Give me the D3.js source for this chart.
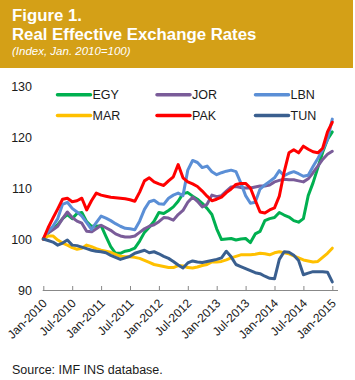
<!DOCTYPE html>
<html>
<head>
<meta charset="utf-8">
<script src="https://cdn.jsdelivr.net/npm/d3@7"></script>
<style>
  html, body { margin: 0; padding: 0; background: #fff; }
  svg { display: block; }
  text { font-family: "Liberation Sans", Arial, sans-serif; }
</style>
</head>
<body>
<svg id="chart" width="355" height="380"></svg>
<script>
// ---- Data ----
const months = d3.timeMonths(new Date(2010, 0, 1), new Date(2015, 0, 2)); // Jan-2010 .. Jan-2015 (61)
const tickLabels = ["Jan-2010","Jul-2010","Jan-2011","Jul-2011","Jan-2012","Jul-2012",
                    "Jan-2013","Jul-2013","Jan-2014","Jul-2014","Jan-2015"];
const yTicks = [90, 100, 110, 120, 130];
const seriesNames = ["EGY", "JOR", "LBN", "MAR", "PAK", "TUN"];
const seriesColors = ["#00B050", "#7A5C99", "#5B8FD6", "#FFC000", "#FF0000", "#3A5F8F"];

const EGY = [100,101.2,102.0,102.8,104.0,104.8,104.0,105.0,105.2,103.4,102.5,102.5,102.6,100.5,98.5,97.2,97.2,97.6,97.8,98.2,
  99.6,101.3,102.3,103.5,105.2,105.0,105.6,106.3,107.4,108.9,109.1,108.4,107.8,107.0,106.0,104.8,102.0,99.9,100.0,100.1,
  99.8,100.0,100.1,99.3,101.0,101.5,103.6,104.0,104.2,105.2,104.7,104.3,103.6,103.3,104.0,108.5,111.0,114.0,117.0,119.5,121.0];
const JOR = [100,101.2,101.8,102.5,104.0,105.3,104.2,103.5,103.1,101.5,101.4,102.0,102.7,102.2,101.7,101.0,100.6,100.4,100.4,100.6,
  101.3,102.0,102.5,102.8,103.4,104.2,104.1,103.7,104.8,105.6,107.2,108.2,107.4,106.3,106.8,108.6,108.3,108.5,109.4,110.2,
  110.3,110.1,110.0,110.0,110.2,110.4,110.4,110.6,111.2,111.5,111.7,111.6,111.6,111.4,111.2,111.8,113.0,114.3,115.6,116.6,117.2];
const LBN = [100,101.5,102.5,104.0,106.8,107.2,106.0,105.3,104.5,103.2,101.9,103.2,104.5,104.1,103.6,103.0,102.5,102.1,102.0,101.8,
  103.5,105.8,107.3,107.6,106.9,106.8,108.0,108.6,109.0,108.5,113.5,115.4,115.0,114.0,114.3,113.2,112.6,113.0,113.3,113.5,
  113.2,111.0,108.5,107.0,107.2,109.8,110.6,111.3,112.0,113.4,112.4,112.9,113.2,112.8,112.3,112.5,114.2,115.8,117.5,119.5,123.5];
const MAR = [100,100.6,100.6,99.8,99.2,98.8,98.3,98.0,98.2,98.8,98.5,98.1,97.8,97.6,97.4,97.0,96.6,96.5,96.5,96.4,
  96.2,95.8,95.4,95.0,94.8,94.6,94.4,94.4,94.8,94.7,94.4,94.3,94.5,94.8,95.0,95.5,95.5,95.6,95.9,96.3,
  96.6,96.9,96.9,96.9,97.0,97.2,97.1,96.9,97.3,97.5,97.3,97.1,96.7,96.3,95.9,95.7,95.5,95.6,96.4,97.2,98.2];
const PAK = [100,102.2,104.1,105.9,107.8,108.0,107.3,107.5,108.0,105.7,107.5,109.0,108.6,108.4,108.2,108.1,108.0,107.9,107.7,107.4,
  109.2,111.4,112.0,111.2,110.8,110.5,111.4,112.2,114.6,112.0,111.2,110.8,110.3,109.4,108.4,107.5,107.8,108.2,109.1,109.8,
  110.7,110.9,110.9,110.0,107.6,105.3,105.1,105.7,106.1,108.4,113.1,116.9,117.5,116.9,118.2,117.6,117.1,116.9,117.8,121.0,122.9];
const TUN = [100,99.7,99.4,98.8,99.2,99.8,98.8,98.7,98.4,98.1,97.8,97.6,97.5,97.3,96.8,96.4,96.0,96.3,96.6,97.2,
  97.5,97.8,97.3,97.5,97.1,96.6,96.2,95.6,94.9,94.3,95.3,95.7,95.5,95.4,95.6,95.8,96.0,96.3,97.6,96.5,
  95.0,94.6,94.2,93.8,93.4,93.2,92.7,92.3,92.2,96.0,97.5,97.4,96.8,95.8,93.0,93.3,93.6,93.6,93.6,93.5,91.6];
const seriesValues = [EGY, JOR, LBN, MAR, PAK, TUN];

// ---- Layout ----
const svg = d3.select("#chart");
const plot = { left: 43.3, right: 332.3, top: 86, bottom: 290, axisEnd: 338 };

// Banner
svg.append("rect").attr("x", 0).attr("y", 0).attr("width", 353).attr("height", 68).attr("fill", "#D4A017");
svg.append("text").attr("x", 12).attr("y", 21).attr("fill", "#fff")
  .style("font-size", "16.8px").style("font-weight", "bold").text("Figure 1.");
svg.append("text").attr("x", 12).attr("y", 39.5).attr("fill", "#fff")
  .style("font-size", "16.8px").style("font-weight", "bold").text("Real Effective Exchange Rates");
svg.append("text").attr("x", 12).attr("y", 55).attr("fill", "#fff")
  .style("font-size", "11.5px").style("font-style", "italic").text("(Index, Jan. 2010=100)");

// Scales
const x = d3.scaleLinear().domain([0, months.length - 1]).range([plot.left, plot.right]);
const y = d3.scaleLinear().domain([90, 130]).range([plot.bottom, plot.top]);

// Y tick labels
svg.append("g").selectAll("text").data(yTicks).join("text")
  .attr("x", 32).attr("y", d => y(d)).attr("dy", "0.36em")
  .attr("text-anchor", "end").attr("fill", "#1a1a1a")
  .style("font-size", "12.5px").text(d => d);

// X axis
const tickIdx = tickLabels.map((_, i) => i * 6);
const xAxis = d3.axisBottom(x).tickValues(tickIdx).tickSizeInner(-4).tickSizeOuter(0)
  .tickFormat((d, i) => tickLabels[i]);
const gx = svg.append("g").attr("transform", `translate(0,${plot.bottom})`).call(xAxis);
gx.select(".domain").attr("d", `M${plot.left - 0.6},0.5H${plot.axisEnd}`).attr("stroke", "#888");
gx.selectAll(".tick line").attr("stroke", "#888");
gx.selectAll(".tick text")
  .attr("text-anchor", "end").attr("fill", "#1a1a1a")
  .style("font-size", "12px").style("font-family", "Liberation Sans, Arial, sans-serif")
  .attr("y", 0).attr("dy", 0)
  .attr("transform", "translate(4,14) rotate(-45)");

// Lines
const line = d3.line().x((d, i) => x(i)).y(d => y(d));
svg.append("g").selectAll("path").data(seriesValues).join("path")
  .attr("d", d => line(d))
  .attr("fill", "none")
  .attr("stroke", (d, i) => seriesColors[i])
  .attr("stroke-width", 3)
  .attr("stroke-linejoin", "round")
  .attr("stroke-linecap", "round");

// Legend
const legX = [57.5, 157, 255.5];
const legY = [94.7, 115.5];
const leg = svg.append("g").selectAll("g").data(seriesNames).join("g")
  .attr("transform", (d, i) => `translate(${legX[i % 3]},${legY[Math.floor(i / 3)]})`);
leg.append("line").attr("x1", 0).attr("x2", 33).attr("y1", 0).attr("y2", 0)
  .attr("stroke", (d, i) => seriesColors[i]).attr("stroke-width", 3.5).attr("stroke-linecap", "round");
leg.append("text").attr("x", 35).attr("y", 0).attr("dy", "0.36em")
  .attr("fill", "#1a1a1a").style("font-size", "12.5px").text(d => d);

// Source
svg.append("text").attr("x", 12).attr("y", 373.5).attr("fill", "#1a1a1a")
  .style("font-size", "12.5px").text("Source: IMF INS database.");
</script>
</body>
</html>
